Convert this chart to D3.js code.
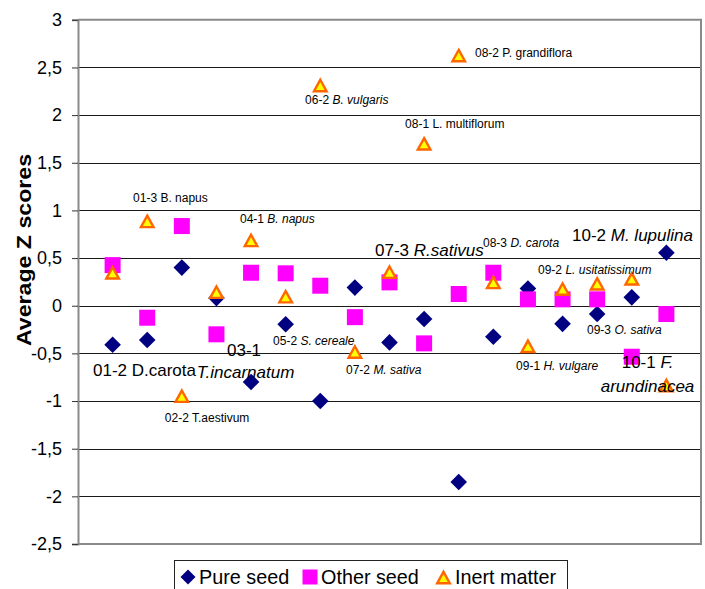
<!DOCTYPE html>
<html>
<head>
<meta charset="utf-8">
<script src="https://cdn.jsdelivr.net/npm/d3@7"></script>
<style>
  html, body { margin: 0; padding: 0; background: #fff; }
  svg { display: block; font-family: "Liberation Sans", Arial, sans-serif; }
</style>
</head>
<body>
<svg id="chart" width="705" height="589"></svg>
<script>
// ---------------- DATA ----------------
const categories = ["01-2","01-3","02-2","03-1","04-1","05-2","06-2","07-2","07-3",
                    "08-1","08-2","08-3","09-1","09-2","09-3","10-1","10-2"];
const pureSeed  = [-0.41, -0.36, 0.40, 0.08, -0.80, -0.195, -1.00, 0.19, -0.385,
                   -0.14, -1.85, -0.325, 0.18, -0.19, -0.087, 0.088, 0.556];
const otherSeed = [0.426, -0.126, 0.836, -0.30, 0.346, 0.34, 0.21, -0.12, 0.245,
                   -0.395, 0.123, 0.346, 0.067, 0.067, 0.067, -0.535, -0.087];
const inertMatter = [0.35, 0.89, -0.944, 0.147, 0.69, 0.10, 2.316, -0.48, 0.357,
                     1.704, 2.63, 0.25, -0.42, 0.18, 0.235, 0.287, -0.832];
const yTickValues = [-2.5, -2, -1.5, -1, -0.5, 0, 0.5, 1, 1.5, 2, 2.5, 3];
const seriesNames = ["Pure seed", "Other seed", "Inert matter"];
const yTitle = "Average Z scores";

// annotations (x in category units, y in data units)
const annotations = [
  {parts:[["01-3 B. napus",0]], x:1.59, y:1.088, big:0, anchor:"start"},
  {parts:[["02-2 T.aestivum",0]], x:2.51, y:-1.22, big:0, anchor:"start"},
  {parts:[["04-1 ",0],["B. napus",1]], x:4.68, y:0.868, big:0, anchor:"start"},
  {parts:[["05-2 ",0],["S. cereale",1]], x:5.635, y:-0.412, big:0, anchor:"start"},
  {parts:[["06-2 ",0],["B. vulgaris",1]], x:6.56, y:2.116, big:0, anchor:"start"},
  {parts:[["07-2 ",0],["M. sativa",1]], x:7.744, y:-0.717, big:0, anchor:"start"},
  {parts:[["08-1 L. multiflorum",0]], x:9.449, y:1.861, big:0, anchor:"start"},
  {parts:[["08-2 P. grandiflora",0]], x:11.471, y:2.607, big:0, anchor:"start"},
  {parts:[["08-3 ",0],["D. carota",1]], x:11.702, y:0.616, big:0, anchor:"start"},
  {parts:[["09-1 ",0],["H. vulgare",1]], x:12.656, y:-0.675, big:0, anchor:"start"},
  {parts:[["09-2 ",0],["L. usitatissimum",1]], x:13.291, y:0.333, big:0, anchor:"start"},
  {parts:[["09-3 ",0],["O. sativa",1]], x:14.707, y:-0.297, big:0, anchor:"start"},
  {parts:[["01-2 D.carota",0]], x:0.433, y:-0.738, big:1, anchor:"start"},
  {parts:[["03-1",0]], x:4.796, y:-0.528, big:1, anchor:"middle"},
  {parts:[["T.incarnatum",1]], x:4.84, y:-0.759, big:1, anchor:"middle"},
  {parts:[["07-3 ",0],["R.sativus",1]], x:8.581, y:0.522, big:1, anchor:"start"},
  {parts:[["10-2 ",0],["M. lupulina",1]], x:14.273, y:0.679, big:1, anchor:"start"},
  {parts:[["10-1 ",0],["F.",1]], x:16.455, y:-0.654, big:1, anchor:"middle"},
  {parts:[["arundinacea",1]], x:16.455, y:-0.906, big:1, anchor:"middle"}
];

// ---------------- LAYOUT ----------------
const svg = d3.select("#chart");
const plot = {left: 78, right: 701, top: 19.8, bottom: 544};
const x = d3.scaleLinear().domain([0, categories.length + 1]).range([plot.left, plot.right]);
const y = d3.scaleLinear().domain([-2.5, 3]).range([plot.bottom, plot.top]);
const fmt = d => String(d).replace(".", ",");

// gridlines
svg.append("g").selectAll("line")
  .data(yTickValues.filter(v => v > -2.5 && v < 3))
  .join("line")
  .attr("x1", plot.left).attr("x2", plot.right)
  .attr("y1", d => Math.round(y(d)) + 0.5).attr("y2", d => Math.round(y(d)) + 0.5)
  .attr("stroke", "#1a1a1a").attr("stroke-width", 1);

// plot border (top, right, bottom)
svg.append("path")
  .attr("d", `M${plot.left},${y(3)}H${plot.right}V${y(-2.5)}H${plot.left}`)
  .attr("fill", "none").attr("stroke", "#8a8a8a").attr("stroke-width", 2);

// y axis
const yAxis = d3.axisLeft(y).tickValues(yTickValues).tickSize(6).tickPadding(10).tickFormat(fmt);
const gy = svg.append("g").attr("transform", `translate(${plot.left},0)`).call(yAxis);
gy.select(".domain").attr("stroke", "#8a8a8a").attr("stroke-width", 2);
gy.selectAll(".tick line").attr("stroke", "#333").attr("stroke-width", 1);
gy.selectAll(".tick text").attr("font-size", 18).attr("fill", "#000")
  .attr("font-family", "Liberation Sans, Arial, sans-serif");

// y title
svg.append("text")
  .attr("transform", `translate(31,250) rotate(-90)`)
  .attr("text-anchor", "middle")
  .attr("font-size", 20).attr("font-weight", "bold")
  .attr("textLength", 192).attr("lengthAdjust", "spacingAndGlyphs")
  .text(yTitle);

// markers
const diamondPath = "M0,-8.3L8.3,0L0,8.3L-8.3,0Z";
const trianglePath = "M0,-5.2L6.3,6.2L-6.3,6.2Z";

svg.append("g").selectAll("path")
  .data(pureSeed).join("path")
  .attr("d", diamondPath)
  .attr("transform", (d, i) => `translate(${x(i + 1)},${y(d)})`)
  .attr("fill", "#000080");

svg.append("g").selectAll("rect")
  .data(otherSeed).join("rect")
  .attr("x", (d, i) => x(i + 1) - 8).attr("y", d => y(d) - 8)
  .attr("width", 16).attr("height", 16)
  .attr("fill", "#FF00FF");

svg.append("g").selectAll("path")
  .data(inertMatter).join("path")
  .attr("d", trianglePath)
  .attr("transform", (d, i) => `translate(${x(i + 1)},${y(d)})`)
  .attr("fill", "#FFFF00").attr("stroke", "#FF6600").attr("stroke-width", 2.4)
  .attr("stroke-linejoin", "miter");

// annotations
const ag = svg.append("g");
annotations.forEach(a => {
  const t = ag.append("text")
    .attr("x", x(a.x)).attr("y", y(a.y))
    .attr("text-anchor", a.anchor)
    .attr("font-size", a.big ? 17 : 12)
    .attr("fill", "#000");
  a.parts.forEach(p => {
    t.append("tspan").attr("font-style", p[1] ? "italic" : "normal").text(p[0]);
  });
});

// legend
const lg = svg.append("g");
lg.append("rect").attr("x", 174.5).attr("y", 560.5).attr("width", 393).attr("height", 40)
  .attr("fill", "#fff").attr("stroke", "#222").attr("stroke-width", 1);
const legendItems = [
  {name: seriesNames[0], mx: 188, tx: 199},
  {name: seriesNames[1], mx: 310, tx: 321},
  {name: seriesNames[2], mx: 443.5, tx: 455}
];
const ly = 577;
lg.append("path").attr("d", "M0,-7.5L7.5,0L0,7.5L-7.5,0Z")
  .attr("transform", `translate(${legendItems[0].mx},${ly})`).attr("fill", "#000080");
lg.append("rect").attr("x", legendItems[1].mx - 7.5).attr("y", ly - 7.5)
  .attr("width", 15).attr("height", 15).attr("fill", "#FF00FF");
lg.append("path").attr("d", trianglePath)
  .attr("transform", `translate(${legendItems[2].mx},${ly})`)
  .attr("fill", "#FFFF00").attr("stroke", "#FF6600").attr("stroke-width", 2.4);
lg.selectAll("text.leg").data(legendItems).join("text")
  .attr("class", "leg")
  .attr("x", d => d.tx).attr("y", 583.5)
  .attr("font-size", 19.8).attr("fill", "#000")
  .text(d => d.name);
</script>
</body>
</html>
